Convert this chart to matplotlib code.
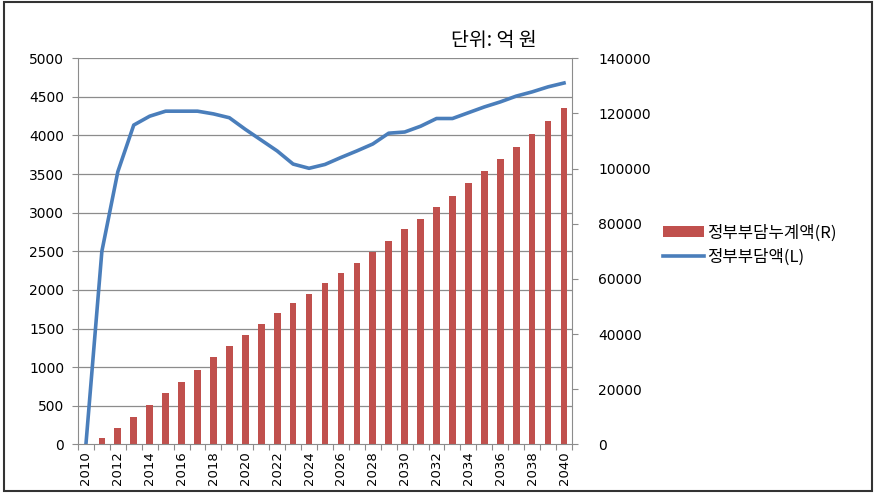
import matplotlib.pyplot as plt
import numpy as np
from matplotlib.patches import Rectangle

plt.rcParams["font.family"] = ["DejaVu Sans", "Noto Sans CJK KR"]

years = list(range(2010, 2041))

# 정부부담액 (left axis, 억 원)
annual = [0, 2500, 3530, 4135, 4250, 4315, 4315, 4315, 4280, 4230,
          4080, 3940, 3800, 3630, 3575, 3625, 3715, 3800, 3890, 4030,
          4045, 4120, 4220, 4220, 4295, 4370, 4435, 4510, 4565, 4630,
          4680]

# 정부부담누계액 (right axis, 억 원)
cumulative = [0, 2400, 5800, 10000, 14300, 18500, 22700, 26900, 31600, 35800,
              39600, 43700, 47600, 51100, 54500, 58400, 62200, 65600, 69900, 73700,
              78000, 81700, 86000, 90200, 94800, 99000, 103600, 107800, 112400, 117200,
              122000]

bar_label = "정부부담누계액(R)"
line_label = "정부부담액(L)"
unit_text = "단위: 억 원"

RED = "#C0504D"
BLUE = "#4A7EBB"
GRID = "#8C8C8C"
KR = ["Noto Sans CJK KR", "DejaVu Sans"]

fig = plt.figure(figsize=(8.75, 4.94), dpi=100)
ax = fig.add_axes([0.0891, 0.1006, 0.5646, 0.7814])
ax2 = ax.twinx()

x = np.arange(len(years))
bars = ax2.bar(x, cumulative, width=0.42, color=RED, zorder=2)
ax2.set_ylim(0, 140000)
ax2.set_yticks(np.arange(0, 140001, 20000))

ax.set_zorder(ax2.get_zorder() + 1)
ax.patch.set_visible(False)
(line,) = ax.plot(x, annual, color=BLUE, lw=2.6, solid_joinstyle="round")
ax.set_ylim(0, 5000)
ax.set_yticks(np.arange(0, 5001, 500))
ax.set_xlim(-0.5, len(years) - 0.5)

# gridlines drawn on the bar axis so they sit behind the bars
for v in np.arange(500, 5001, 500):
    ax2.axhline(v * 28, color=GRID, lw=0.9, zorder=1)

# category boundary ticks, labels every other year
ax.set_xticks(np.arange(-0.5, len(years)), minor=False)
ax.set_xticklabels([])
ax.set_xticks(x[::2], minor=True)
ax.set_xticklabels([str(y) for y in years[::2]], minor=True, rotation=90, fontsize=9.5)
ax.tick_params(axis="x", which="minor", length=0, pad=5)
ax.tick_params(axis="x", which="major", length=4, color=GRID, direction="out")

ax.tick_params(axis="y", length=4, color=GRID, labelsize=10, pad=6)
ax2.tick_params(axis="y", length=4, color=GRID, labelsize=10, pad=15)

for a in (ax, ax2):
    a.spines["top"].set_visible(False)
    for s in ("left", "right", "bottom"):
        a.spines[s].set_color(GRID)
ax.spines["right"].set_visible(False)
ax2.spines["left"].set_visible(False)
ax2.spines["bottom"].set_visible(False)

fig.text(0.515, 0.918, unit_text, fontsize=14, ha="left", va="center", family=KR)

fig.legend([bars, line], [bar_label, line_label], loc="upper left",
           bbox_to_anchor=(0.741, 0.576), frameon=False,
           prop={"family": KR, "size": 12},
           handlelength=2.45, handleheight=0.6, handletextpad=0.2, labelspacing=0.4)

fig.patches.append(Rectangle((0.004, 0.006), 0.992, 0.99, transform=fig.transFigure,
                             fill=False, edgecolor="#333333", lw=1.5))

fig.savefig("out.png", dpi=100)
